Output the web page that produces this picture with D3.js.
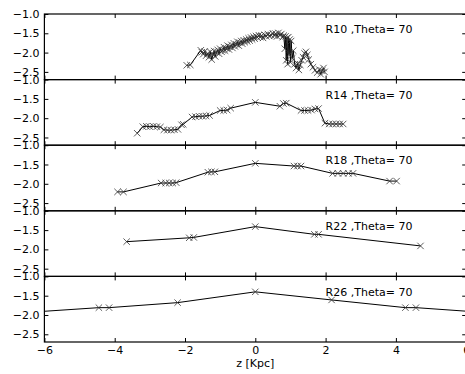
<!DOCTYPE html>
<html><head><meta charset="utf-8">
<script src="https://cdn.jsdelivr.net/npm/d3@7"></script>
<style>body{margin:0;background:#fff}svg{display:block}</style>
</head><body>
<script>
// ---- data ----
const panelNames = ["R10", "R14", "R18", "R22", "R26"];
const theta = 70;
const xTicks = [-6, -4, -2, 0, 2, 4, 6];
const yTicks = [-1.0, -1.5, -2.0, -2.5];
const xLabel = "z [Kpc]";

const zR10 = [-1.95,-1.85,-1.55,-1.52,-1.48,-1.44,-1.40,-1.36,-1.32,-1.28,-1.24,-1.20,-1.17,-1.14,-1.10,-1.07,-1.03,-1.00,-0.96,-0.93,-0.89,-0.86,-0.82,-0.79,-0.75,-0.72,-0.68,-0.65,-0.61,-0.58,-0.54,-0.51,-0.47,-0.44,-0.40,-0.37,-0.33,-0.30,-0.26,-0.23,-0.19,-0.16,-0.12,-0.09,-0.05,-0.02,0.02,0.06,0.10,0.14,0.18,0.22,0.27,0.31,0.36,0.40,0.45,0.50,0.54,0.58,0.62,0.66,0.70,0.74,0.78,0.81,0.84,0.86,0.88,0.90,0.92,0.94,0.96,0.98,1.00,1.02,1.05,1.08,1.12,1.16,1.20,1.24,1.28,1.32,1.36,1.40,1.44,1.48,1.52,1.58,1.64,1.70,1.76,1.82,1.86,1.90,1.94,1.97];
const vR10 = [-2.33,-2.32,-1.94,-1.99,-2.04,-1.97,-2.08,-2.02,-2.12,-1.98,-2.18,-2.05,-1.96,-2.10,-1.99,-1.93,-2.03,-1.90,-1.98,-1.94,-1.86,-1.95,-1.89,-1.82,-1.92,-1.85,-1.80,-1.88,-1.76,-1.84,-1.79,-1.72,-1.82,-1.74,-1.70,-1.77,-1.68,-1.73,-1.66,-1.71,-1.63,-1.69,-1.61,-1.66,-1.59,-1.64,-1.57,-1.61,-1.55,-1.60,-1.56,-1.62,-1.54,-1.58,-1.52,-1.57,-1.55,-1.50,-1.56,-1.51,-1.58,-1.49,-1.55,-1.52,-1.60,-1.56,-1.90,-1.58,-2.20,-1.62,-2.30,-1.60,-2.05,-1.66,-2.25,-1.70,-2.15,-1.95,-2.30,-2.40,-2.28,-2.45,-2.32,-2.20,-2.12,-2.02,-1.98,-2.06,-2.18,-2.30,-2.38,-2.46,-2.52,-2.44,-2.56,-2.47,-2.40,-2.50];

const zR14 = [-3.36,-3.20,-3.10,-3.00,-2.90,-2.80,-2.70,-2.60,-2.50,-2.40,-2.30,-2.20,-2.10,-2.05,-1.80,-1.70,-1.60,-1.50,-1.40,-1.30,-1.00,-0.90,-0.80,-0.70,0.00,0.70,0.80,0.88,1.30,1.40,1.50,1.60,1.70,1.80,1.98,2.10,2.20,2.30,2.40,2.50];
const vR14 = [-2.39,-2.22,-2.21,-2.22,-2.21,-2.22,-2.23,-2.30,-2.31,-2.31,-2.30,-2.29,-2.17,-2.16,-1.97,-1.96,-1.95,-1.95,-1.94,-1.93,-1.80,-1.80,-1.79,-1.74,-1.59,-1.69,-1.62,-1.61,-1.80,-1.80,-1.80,-1.79,-1.76,-1.75,-2.13,-2.15,-2.15,-2.15,-2.15,-2.15];

const zR18 = [-3.92,-3.75,-2.68,-2.55,-2.45,-2.35,-2.25,-1.35,-1.25,-1.15,0.00,1.10,1.20,1.30,2.20,2.35,2.50,2.65,2.78,3.82,4.02];
const vR18 = [-2.21,-2.21,-1.98,-1.98,-1.98,-1.98,-1.97,-1.70,-1.69,-1.69,-1.47,-1.54,-1.54,-1.54,-1.73,-1.73,-1.73,-1.73,-1.73,-1.93,-1.93];

const zR22 = [-3.66,-1.88,-1.75,0.00,1.68,1.80,4.70];
const vR22 = [-1.80,-1.70,-1.69,-1.41,-1.61,-1.61,-1.91];

const zR26 = [-6.60,-4.45,-4.16,-2.21,0.00,2.17,4.27,4.57,6.60];
const vR26 = [-1.94,-1.81,-1.81,-1.68,-1.40,-1.61,-1.81,-1.81,-1.94];

const seriesZ = [zR10, zR14, zR18, zR22, zR26];
const seriesV = [vR10, vR14, vR18, vR22, vR26];

// ---- layout ----
const W = 465, H = 374;
const left = 44.4, right = 466.2, top0 = 14, ph = 65.6;
const font = "DejaVu Sans, sans-serif";

const svg = d3.select("body").append("svg").attr("width", W).attr("height", H)
  .style("font-family", font);
svg.append("rect").attr("width", W).attr("height", H).attr("fill", "#fff");

const x = d3.scaleLinear().domain([-6, 6]).range([left, right]);

panelNames.forEach((name, i) => {
  const top = top0 + i * ph;
  const y = d3.scaleLinear().domain([-2.7, -1.0]).range([top + ph, top]);
  const g = svg.append("g");
  const cid = "clip" + i;
  svg.append("clipPath").attr("id", cid).append("rect")
    .attr("x", left).attr("y", top).attr("width", right - left).attr("height", ph);

  const n = Math.min(seriesZ[i].length, seriesV[i].length);
  const pts = d3.range(n).map(k => [seriesZ[i][k], seriesV[i][k]]);
  const pg = g.append("g").attr("clip-path", `url(#${cid})`);
  pg.append("path").datum(pts)
    .attr("fill", "none").attr("stroke", "#000").attr("stroke-width", 1)
    .attr("d", d3.line().x(d => x(d[0])).y(d => y(d[1])));
  const s = 3.2;
  pg.selectAll("path.m").data(pts).enter().append("path")
    .attr("class", "m")
    .attr("d", d => {
      const cx = x(d[0]), cy = y(d[1]);
      return `M${cx - s},${cy - s}L${cx + s},${cy + s}M${cx - s},${cy + s}L${cx + s},${cy - s}`;
    })
    .attr("stroke", "#333").attr("stroke-width", 0.8).attr("fill", "none");

  // axes with inward ticks
  const yl = g.append("g").attr("transform", `translate(${left},0)`)
    .call(d3.axisLeft(y).tickValues(yTicks).tickFormat(d3.format(".1f")).tickSize(-4).tickPadding(5));
  const yr = g.append("g").attr("transform", `translate(${right},0)`)
    .call(d3.axisRight(y).tickValues(yTicks).tickFormat("").tickSize(-4));
  const xt = g.append("g").attr("transform", `translate(0,${top})`)
    .call(d3.axisTop(x).tickValues(xTicks).tickFormat("").tickSize(-4));
  const xb = g.append("g").attr("transform", `translate(0,${top + ph})`)
    .call(d3.axisBottom(x).tickValues(xTicks)
      .tickFormat(i === panelNames.length - 1 ? d3.format("d") : "")
      .tickSize(-4).tickPadding(4));
  [yl, yr, xt, xb].forEach(a => {
    a.select(".domain").remove();
    a.selectAll("line").attr("stroke", "#000").attr("stroke-width", 1);
    a.selectAll("text").attr("font-size", 11).attr("font-family", font).attr("fill", "#000");
  });

  g.append("rect").attr("x", left).attr("y", top).attr("width", right - left).attr("height", ph)
    .attr("fill", "none").attr("stroke", "#000").attr("stroke-width", 1.2);

  g.append("text").attr("x", x(2)).attr("y", y(-1.5))
    .attr("font-size", 11).attr("fill", "#000")
    .text(`${name} ,Theta= ${theta}`);
});

svg.append("text").attr("x", x(0)).attr("y", 366.5).attr("text-anchor", "middle")
  .attr("font-size", 11).attr("fill", "#000").text(xLabel);
</script>
</body></html>
